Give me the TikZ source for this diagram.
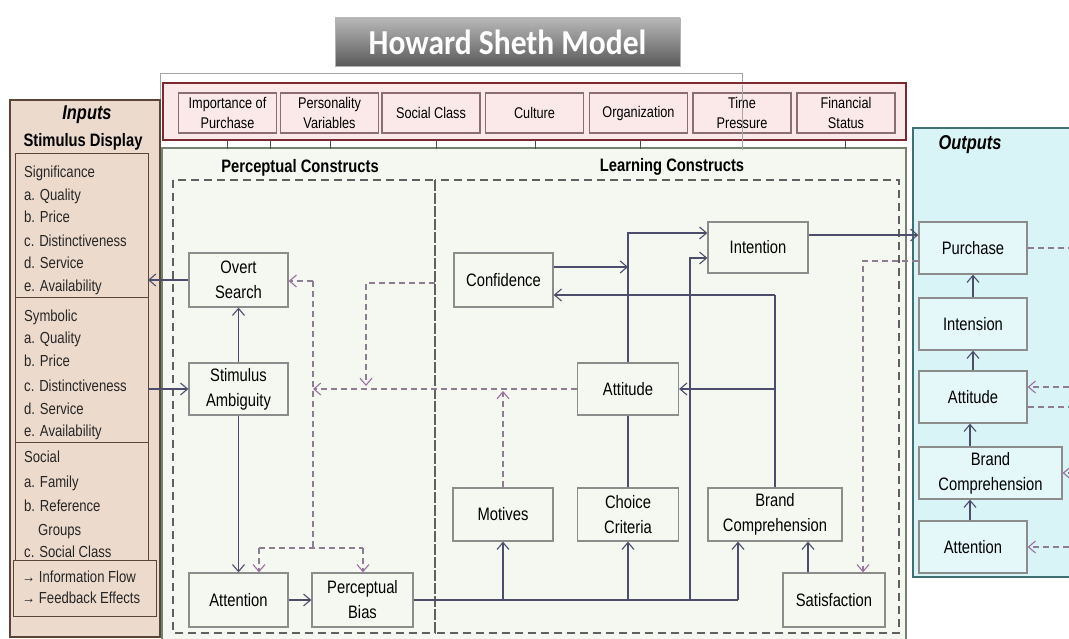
\documentclass[tikz,border=0pt]{standalone}
\usepackage{fontspec}
\setmainfont[FakeStretch=0.82]{Liberation Sans}
\newfontfamily\titlefont[FakeStretch=0.9]{Carlito}
\usetikzlibrary{arrows.meta,calc}
\definecolor{inFill}{HTML}{ECDACC}
\definecolor{inLine}{HTML}{5A4536}
\definecolor{exoFill}{HTML}{FBE9EA}
\definecolor{exoLine}{HTML}{7A2A30}
\definecolor{exoBox}{HTML}{8A6E70}
\definecolor{grFill}{HTML}{F4F8F1}
\definecolor{grLine}{HTML}{74826F}
\definecolor{outFill}{HTML}{D8F4F6}
\definecolor{outLine}{HTML}{3F6E73}
\definecolor{boxLine}{HTML}{8C8C8C}
\definecolor{conLine}{HTML}{4B4D6B}
\definecolor{dshLine}{HTML}{8D7D93}
\definecolor{dshTip}{HTML}{9B6FA0}
\definecolor{titleTop}{HTML}{B8B8B8}
\definecolor{titleBot}{HTML}{5A5A5A}
\begin{document}
\begin{tikzpicture}[x=1pt,y=-1pt,
  box/.style={draw=boxLine, fill=grFill, line width=1.3pt, align=center, inner sep=0pt,
    font=\fontsize{18}{25}\selectfont},
  obox/.style={box, fill=outFill!70!white},
  sz/.style 2 args={minimum width=#1pt, minimum height=#2pt},
  exo/.style={draw=exoBox, fill=exoFill, line width=1.2pt, align=center, inner sep=0pt,
    minimum width=98pt, minimum height=40pt, font=\fontsize{15.5}{20}\selectfont},
  ln/.style={draw=conLine, line width=1.5pt},
  arr/.style={ln, -{Straight Barb[length=7pt,width=12pt,line width=1.1pt]}},
  dsh/.style={draw=dshLine, line width=1.3pt, dash pattern=on 6pt off 4pt},
  dsharr/.style={dsh, -{Straight Barb[length=7pt,width=12pt,line width=1.1pt,color=dshTip]}},
  panel/.style={draw=gray!75!black, line width=1.6pt, dash pattern=on 8pt off 5pt},
  intext/.style={anchor=west, inner sep=0pt, text height=12pt, text depth=3pt,
    font=\fontsize{16}{20}\selectfont, text=black!85},
  head/.style={inner sep=0pt, font=\fontsize{18}{22}\selectfont\bfseries},
  tick/.style={draw=gray!60!black, line width=1pt}
]
\useasboundingbox (0,0) rectangle (1069,639);
\fill[white] (0,0) rectangle (1069,639);

% title
\node[top color=titleTop, bottom color=titleBot, draw=gray!60, line width=0.5pt,
  minimum width=345pt, minimum height=48pt, inner sep=0pt,
  font=\titlefont\bfseries\fontsize{35}{40}\selectfont, text=white] (title) at (507.5,42) {Howard Sheth Model};

% thin outline behind the exogenous row
\draw[gray!70, line width=0.8pt] (160,150) -- (160,73) -- (742,73) -- (742,85);

% outputs panel
\draw[outLine, fill=outFill, line width=2.2pt] (913,128) rectangle (1080,577);
\node[head, font=\fontsize{20}{24}\selectfont\bfseries\itshape] (outT) at (970,145) {Outputs};

% green panel
\draw[grLine, fill=grFill, line width=2pt] (162,148) rectangle (906,645);

% inputs panel
\draw[inLine, fill=inFill, line width=1.8pt] (10,100) rectangle (160,637);
\node[head, font=\fontsize{20}{24}\selectfont\bfseries\itshape] (inT) at (87,115) {Inputs};
\node[head] (inS) at (83,142) {Stimulus Display};
\draw[inLine, line width=1pt] (15,154) rectangle (148,298);
\draw[inLine, line width=1pt] (15,298) rectangle (148,442);
\draw[inLine, line width=1pt] (15,442) rectangle (148,560);
\draw[inLine, line width=1pt] (13,560) rectangle (156,616);
\node[intext] (t1) at (24,173) {Significance};
\node[intext] (t2) at (24,196) {a. Quality};
\node[intext] (t3) at (24,218) {b. Price};
\node[intext] (t4) at (24,242) {c. Distinctiveness};
\node[intext] (t5) at (24,264) {d. Service};
\node[intext] (t6) at (24,287) {e. Availability};
\node[intext] (u1) at (24,317) {Symbolic};
\node[intext] (u2) at (24,339) {a. Quality};
\node[intext] (u3) at (24,362) {b. Price};
\node[intext] (u4) at (24,387) {c. Distinctiveness};
\node[intext] (u5) at (24,410) {d. Service};
\node[intext] (u6) at (24,432) {e. Availability};
\node[intext] (v1) at (24,458) {Social};
\node[intext] (v2) at (24,483) {a. Family};
\node[intext] (v3) at (24,507) {b. Reference};
\node[intext] (v4) at (38,531) {Groups};
\node[intext] (v5) at (24,553) {c. Social Class};
\node[intext] (w1) at (22,578) {→ Information Flow};
\node[intext] (w2) at (22,599) {→ Feedback Effects};

% exogenous row
\draw[exoLine, fill=exoFill, line width=2pt] (163,83) rectangle (906,140);
\node[exo] (x1) at (227.5,113) {Importance of\\Purchase};
\node[exo] (x2) at (329.5,113) {Personality\\Variables};
\node[exo] (x3) at (431,113) {Social Class};
\node[exo] (x4) at (534.5,113) {Culture};
\node[exo] (x5) at (638.5,113) {Organization};
\node[exo] (x6) at (742,113) {Time\\Pressure};
\node[exo] (x7) at (846,113) {Financial\\Status};
\draw[gray!70, line width=0.8pt] (742,85) -- (742,150);
\foreach \xx in {227,270,330,436,535,640,845} { \draw[tick] (\xx,140) -- (\xx,149); }

% construct areas
\node[head] (pcT) at (300,168) {Perceptual Constructs};
\node[head] (lcT) at (672,167) {Learning Constructs};
\draw[panel] (173,180) rectangle (435,633);
\draw[panel] (435,180) rectangle (899,633);

% perceptual boxes
\node[box, sz={99}{54}] (os) at (238.5,280) {Overt\\Search};
\node[box, sz={99}{52}] (sa) at (238.5,389) {Stimulus\\Ambiguity};
\node[box, sz={99}{54}] (att) at (238.5,600) {Attention};
\node[box, sz={101}{54}] (pb) at (362.5,600) {Perceptual\\Bias};

% learning boxes
\node[box, sz={99}{54}] (conf) at (503.5,280) {Confidence};
\node[box, sz={100}{51}] (int) at (758,247.5) {Intention};
\node[box, sz={101}{52}] (atti) at (628,389) {Attitude};
\node[box, sz={100}{53}] (mot) at (503,514.5) {Motives};
\node[box, sz={101}{53}] (cc) at (628,514.5) {Choice\\Criteria};
\node[box, sz={134}{53}] (bc) at (775,514.5) {Brand\\Comprehension};
\node[box, sz={102}{54}] (sat) at (834,600) {Satisfaction};

% output boxes
\node[obox, sz={108}{52}] (pur) at (973,248) {Purchase};
\node[obox, sz={108}{52}] (ins) at (973,324) {Intension};
\node[obox, sz={108}{52}] (oatt) at (973,397) {Attitude};
\node[obox, sz={143}{52}] (obc) at (990.5,473) {Brand\\Comprehension};
\node[obox, sz={108}{52}] (oatn) at (973,547) {Attention};

% perceptual connectors
\coordinate (inA) at (148,280);
\coordinate (inB) at (148,389);
\draw[arr] (os.west) -- (inA);
\draw[arr] (inB) -- (sa.west);
\draw[arr] (sa.north) -- (os.south);
\draw[arr] (sa.south) -- (att.north);
\draw[arr] (att.east) -- (pb.west);

% information flow to learning
\coordinate (j1) at (503,600);
\coordinate (j2) at (628,600);
\coordinate (j3) at (690,600);
\coordinate (j4) at (738,600);
\draw[ln] (pb.east) -- (j4);
\draw[arr] (j4) -- (j4 |- bc.south);
\draw[arr] (j1) -- (j1 |- mot.south);
\draw[arr] (j2) -- (cc.south);
\coordinate (k3) at (690,258);
\draw[arr] (j3) -- (k3) -- (k3 -| int.west);
\draw[ln] (cc.north) -- (atti.south);
\coordinate (k2) at (628,233);
\draw[arr] (atti.north) -- (k2) -- (k2 -| int.west);
\coordinate (k1) at (628,267);
\draw[arr] (conf.east |- k1) -- (k1);
\coordinate (b1) at (775,295);
\coordinate (b2) at (775,389);
\draw[ln] (bc.north) -- (b1);
\draw[arr] (b1) -- (b1 -| conf.east);
\draw[arr] (b2) -- (atti.east);
\coordinate (s1) at (808,0);
\draw[arr] (sat.north -| s1) -- (bc.south -| s1);
\coordinate (p1) at (0,235);
\draw[arr] (int.east |- p1) -- (pur.west |- p1);

% feedback (dashed)
\coordinate (d1) at (863,261);
\draw[dsharr] (pur.west |- d1) -- (d1) -- (d1 |- sat.north);
\coordinate (f1) at (313,389);
\draw[dsharr] (atti.west) -- (f1);
\coordinate (f2) at (313,281);
\coordinate (f3) at (313,548);
\draw[dsh] (f2) -- (f3);
\draw[dsharr] (f2) -- (f2 -| os.east);
\coordinate (f4) at (259,548);
\coordinate (f5) at (363,548);
\draw[dsh] (f4) -- (f5);
\draw[dsharr] (f4) -- (f4 |- att.north);
\draw[dsharr] (f5) -- (f5 |- pb.north);
\coordinate (g1) at (435,283);
\coordinate (g2) at (366,283);
\coordinate (g3) at (366,386);
\draw[dsharr] (g1) -- (g2) -- (g3);
\coordinate (m1) at (503,391);
\draw[dsharr] (mot.north) -- (m1);

% outputs connectors
\draw[arr] (ins.north) -- (pur.south);
\draw[arr] (oatt.north) -- (ins.south);
\coordinate (o1) at (970,0);
\draw[arr] (obc.north -| o1) -- (oatt.south -| o1);
\draw[arr] (oatn.north -| o1) -- (obc.south -| o1);
\coordinate (e1) at (1069,248);
\draw[dsh] (pur.east) -- (e1);
\coordinate (e2) at (1069,387);
\draw[dsharr] (e2) -- (e2 -| oatt.east);
\coordinate (e3) at (1069,407);
\draw[dsh] (oatt.east |- e3) -- (e3);
\coordinate (e4) at (1074,473);
\draw[dsharr] (e4) -- (obc.east);
\coordinate (e5) at (1069,547);
\draw[dsharr] (e5) -- (oatn.east);
\end{tikzpicture}
\end{document}
